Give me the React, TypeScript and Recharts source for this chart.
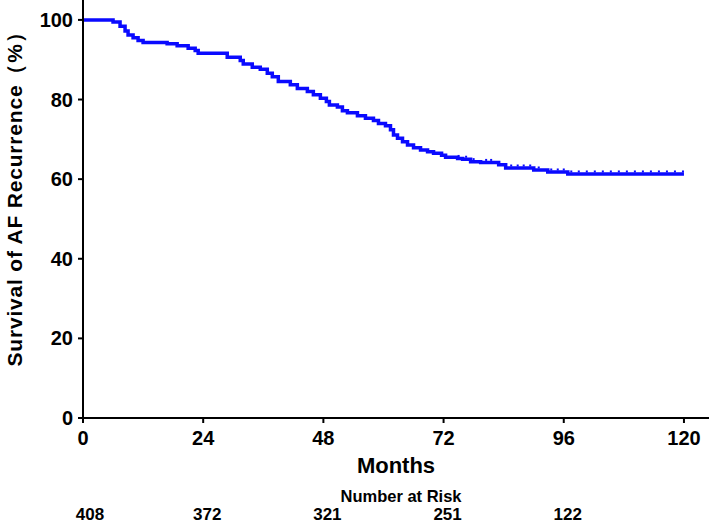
import React from 'react';
import { ComposedChart, Line, Scatter, XAxis, YAxis, Label } from 'recharts';

const stepTimes = [0, 6, 7.4, 8.4, 9, 10, 11, 12, 16.8, 18.8, 21, 22.4, 23, 28.8, 31.4, 32, 33.8, 35.4, 36.8, 37.8, 39, 41.4, 42.8, 44.8, 46, 47.4, 48.6, 49.2, 50.8, 51.8, 52.8, 54.8, 56.4, 58, 59, 60.4, 61.4, 62, 62.8, 63.8, 64.8, 66, 67.4, 68.8, 70, 71.6, 72.4, 74.8, 75.8, 77.4, 79.4, 83, 84.4, 90, 92.8, 96.8, 120];
const stepSurvival = [100, 99.5, 98.4, 97.2, 96.2, 95.5, 94.8, 94.3, 94.0, 93.5, 92.9, 92.3, 91.6, 90.6, 89.8, 88.9, 88.1, 87.6, 86.6, 85.7, 84.5, 83.7, 82.8, 82.0, 81.2, 80.3, 79.5, 78.6, 78.1, 77.2, 76.7, 75.9, 75.3, 74.7, 74.0, 73.4, 72.4, 71.1, 70.3, 69.4, 68.6, 67.9, 67.3, 66.9, 66.5, 66.0, 65.5, 65.2, 65.0, 64.4, 64.2, 63.6, 62.8, 62.3, 61.8, 61.3, 61.3];
const censorTimes = [75, 76.5, 78, 80.5, 81.5, 85.5, 86.8, 88, 89.3, 91, 93.5, 94.8, 96, 97.5, 99, 100.6, 102.2, 103.8, 105.4, 107, 108.6, 110.2, 111.8, 113.4, 115, 116.6, 118.2, 119.8];

const monthTicks = [0, 24, 48, 72, 96, 120];
const yTicks = [0, 20, 40, 60, 80, 100];
const riskTimes = [0, 24, 48, 72, 96];
const riskCounts = [408, 372, 321, 251, 122];

const lineData = stepTimes.map((t, i) => ({ t, s: stepSurvival[i] }));
const valueAt = (t: number) => {
  let v = stepSurvival[0];
  for (let i = 0; i < stepTimes.length; i++) {
    if (stepTimes[i] <= t) v = stepSurvival[i];
  }
  return v;
};
const censorData = censorTimes.map((t) => ({ t, s: valueAt(t) }));

const FONT = '"Liberation Sans", Arial, Helvetica, sans-serif';
const BLUE = '#0a0aff';

const CensorMark = (props: any) => {
  const { cx, cy } = props;
  if (cx == null || cy == null) return null;
  return <rect x={cx - 1} y={cy - 3.5} width={2} height={2} fill={BLUE} />;
};

const MonthTick = (props: any) => {
  const { x, y, payload } = props;
  const idx = riskTimes.indexOf(payload.value);
  return (
    <g>
      <text x={x} y={y} dy="0.71em" textAnchor="middle" fontSize={20} fontWeight="bold" fill="#000" fontFamily={FONT}>
        {payload.value}
      </text>
      {idx >= 0 && (
        <text x={x + (idx === 0 ? 7 : 4)} y={y + 89} textAnchor="middle" fontSize={17} fontWeight="bold" fill="#000" fontFamily={FONT}>
          {riskCounts[idx]}
        </text>
      )}
    </g>
  );
};

export default function App() {
  return (
    <div style={{ position: 'absolute', left: 0, top: 0, fontFamily: FONT }}>
      <ComposedChart width={709} height={524} margin={{ top: 0, right: 0, left: 0, bottom: 0 }}>
        <XAxis
          dataKey="t"
          type="number"
          domain={[0, 125]}
          ticks={monthTicks}
          allowDataOverflow
          height={106}
          tickSize={5}
          tickMargin={8}
          axisLine={{ stroke: '#000', strokeWidth: 2 }}
          tickLine={{ stroke: '#000', strokeWidth: 2 }}
          tick={<MonthTick />}
        >
          <Label
            content={(p: any) => {
              const vb = p.viewBox;
              return (
                <g>
                  <text x={vb.x + vb.width / 2} y={vb.y + 55} textAnchor="middle" fontSize={22} fontWeight="bold" fill="#000" fontFamily={FONT}>
                    Months
                  </text>
                  <text x={vb.x + vb.width / 2 + 5} y={vb.y + 84} textAnchor="middle" fontSize={16.5} fontWeight="bold" fill="#000" fontFamily={FONT}>
                    Number at Risk
                  </text>
                </g>
              );
            }}
          />
        </XAxis>
        <YAxis
          type="number"
          domain={[0, 105]}
          ticks={yTicks}
          allowDataOverflow
          width={83}
          tickSize={5}
          tickMargin={5}
          axisLine={{ stroke: '#000', strokeWidth: 2 }}
          tickLine={{ stroke: '#000', strokeWidth: 2 }}
          tick={{ fontSize: 20, fontWeight: 'bold', fill: '#000', fontFamily: FONT }}
        >
          <Label
            content={(p: any) => {
              const vb = p.viewBox;
              const x = vb.x + 22;
              const y = vb.y + vb.height / 2 - 15;
              return (
                <text x={x} y={y} transform={`rotate(-90, ${x}, ${y})`} textAnchor="middle" fontSize={21} letterSpacing={0.8} fontWeight="bold" fill="#000" fontFamily={FONT}>
                  Survival of AF Recurrence（%）
                </text>
              );
            }}
          />
        </YAxis>
        <Line
          data={lineData}
          dataKey="s"
          type="stepAfter"
          stroke={BLUE}
          strokeWidth={3.5}
          dot={false}
          activeDot={false}
          isAnimationActive={false}
          strokeLinejoin="miter"
        />
        <Scatter data={censorData} dataKey="s" shape={<CensorMark />} isAnimationActive={false} />
      </ComposedChart>
    </div>
  );
}
